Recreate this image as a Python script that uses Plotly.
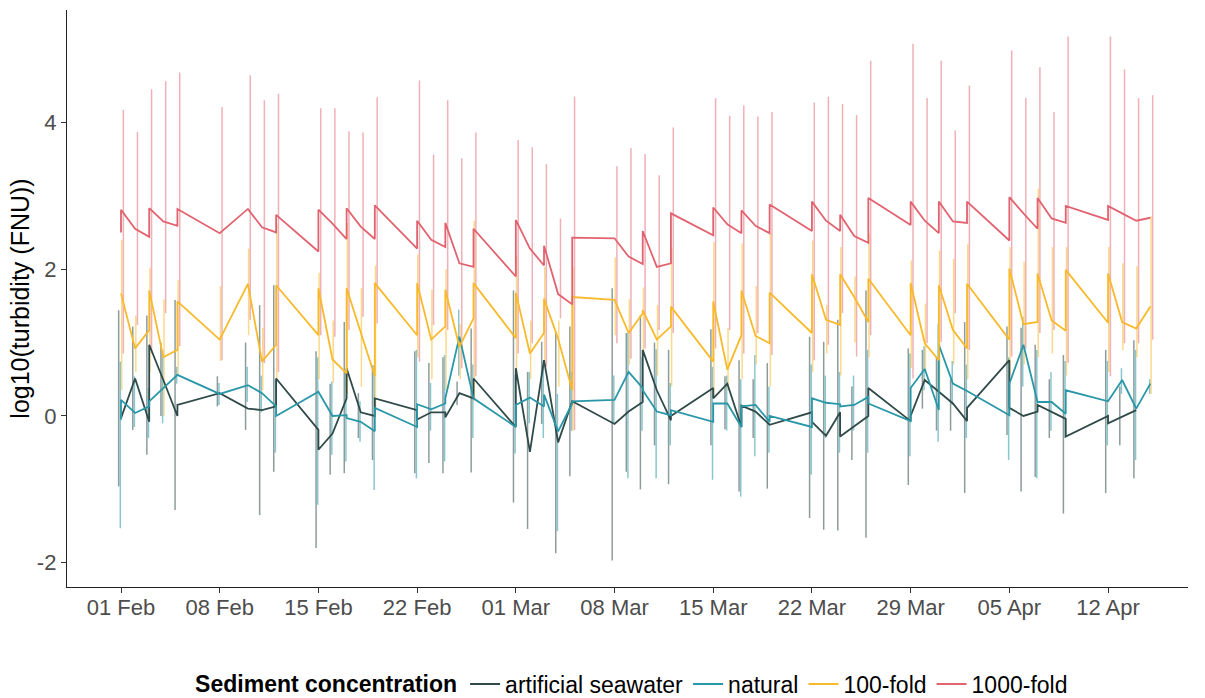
import pandas as pd
import plotly.graph_objects as go

start = pd.Timestamp("2021-02-01")

# ---- line data: sampling days after 1 Feb 2021 (a repeated day = reading before / after renewal)
line_days = [0,0,1,2,2,3,4,4,7,9,10,11,11,14,14,15,16,16,17,18,18,21,21,22,23,23,24,25,25,
             28,28,29,30,30,31,32,32,35,36,37,37,38,39,39,42,42,43,44,44,45,46,46,49,49,50,
             51,51,52,53,53,56,56,57,58,58,59,60,60,63,63,64,65,65,66,67,67,70,70,71,72,73]

art_mean = [-0.03,-0.03,0.51,-0.08,0.97,0.49,0.00,0.15,0.31,0.10,0.08,0.13,0.51,-0.19,-0.46,-0.24,
            0.24,0.65,0.05,0.00,0.24,0.08,-0.05,0.05,0.05,-0.02,0.31,0.24,0.51,-0.15,0.65,-0.49,
            0.76,0.76,-0.36,0.20,0.20,-0.11,0.06,0.19,0.90,0.35,-0.06,0.00,0.38,0.24,0.44,-0.15,
            0.14,0.06,-0.12,-0.12,0.05,-0.08,-0.27,0.05,-0.28,-0.14,0.00,0.38,-0.07,0.00,0.49,
            0.33,0.33,0.17,-0.07,0.11,0.76,0.11,0.00,0.06,0.15,0.06,-0.04,-0.28,0.00,-0.10,
            -0.01,0.08,None]
nat_mean = [-0.05,0.22,0.04,0.13,0.20,0.38,0.56,0.56,0.30,0.42,0.31,0.13,0.00,0.33,0.33,0.00,
            0.01,-0.03,-0.08,-0.21,0.11,-0.15,0.16,0.09,0.17,0.24,1.08,0.24,0.24,-0.15,0.15,0.25,
            0.13,0.29,-0.21,0.17,0.20,0.22,0.60,0.38,0.35,0.06,0.01,0.08,-0.08,0.17,0.17,-0.15,
            0.13,0.15,-0.08,0.00,-0.15,0.24,0.18,0.16,0.13,0.15,0.26,0.17,-0.07,0.38,0.64,0.08,
            0.97,0.44,0.34,0.34,0.01,0.44,0.97,0.19,0.19,0.19,0.03,0.35,0.20,0.20,0.49,0.10,0.44]
f100_mean = [1.67,1.67,0.92,1.17,1.71,0.80,0.90,1.56,1.04,1.80,0.74,0.97,1.78,1.10,1.74,0.77,
             0.58,1.74,1.15,0.54,1.81,1.10,1.81,1.04,1.22,1.72,0.94,1.33,1.81,1.06,1.68,0.85,
             1.13,1.60,1.05,0.35,1.62,1.58,1.13,1.40,1.44,1.04,1.22,1.49,0.74,1.56,0.63,1.10,
             1.71,1.09,0.99,1.68,1.13,1.93,1.31,1.24,1.93,1.62,1.28,1.87,1.10,1.81,0.99,0.76,
             1.78,1.17,0.92,1.80,1.04,2.01,1.25,1.28,1.94,1.30,1.16,1.99,1.27,1.94,1.28,1.19,1.49]
f1000_mean = [2.50,2.81,2.55,2.44,2.83,2.65,2.59,2.82,2.49,2.82,2.57,2.50,2.74,2.24,2.81,2.62,
              2.41,2.83,2.58,2.41,2.87,2.28,2.66,2.40,2.30,2.63,2.08,2.03,2.55,1.90,2.67,2.28,
              2.05,2.32,1.66,1.52,2.43,2.42,2.17,2.07,2.52,2.03,2.08,2.76,2.46,2.84,2.61,2.49,
              2.80,2.59,2.49,2.88,2.52,2.92,2.66,2.52,2.74,2.45,2.36,2.97,2.60,2.92,2.66,2.49,
              2.92,2.65,2.63,2.92,2.39,2.98,2.76,2.55,2.97,2.69,2.63,2.86,2.67,2.86,2.76,2.66,2.70]

# ---- error bar data: one range per sampling day
bar_days = [0,1,2,3,4,7,9,10,11,14,15,16,17,18,21,22,23,24,25,28,29,30,31,32,35,36,37,38,39,
            42,43,44,45,46,49,50,51,52,53,56,57,58,59,60,63,64,65,66,67,70,71,72,73]

art_lo = [-0.96,-0.19,-0.53,0.00,-1.28,0.13,-0.19,-1.35,-0.76,-1.80,-0.80,-0.78,-0.30,-0.60,-0.78,
          -0.64,-0.78,0.15,-0.77,-1.18,-1.54,-0.11,-1.87,-0.82,-1.97,-0.76,-1.00,-0.40,-0.93,-0.40,
          -0.18,-1.03,-0.30,-0.99,-1.39,-1.55,-1.56,-0.60,-1.66,-0.94,0.10,-0.20,-0.20,-1.05,-0.26,
          -1.03,-0.83,-0.30,-1.33,-1.05,-0.40,-0.85,None]
art_hi = [1.44,1.22,1.37,1.00,1.58,0.54,1.00,1.51,1.78,0.88,0.44,1.28,0.31,0.69,0.88,0.72,0.80,
          0.47,1.19,1.71,0.60,1.01,1.15,1.22,1.74,1.13,1.37,1.00,0.90,1.18,0.54,0.76,0.50,0.72,
          1.08,1.01,1.31,0.40,1.71,0.92,0.90,0.80,0.50,1.28,1.22,1.20,0.97,0.50,0.83,0.90,0.40,
          1.03,None]
nat_lo = [-1.53,-0.15,-0.30,-0.10,0.44,0.15,0.19,0.05,-0.50,-1.21,-0.53,-0.62,-0.35,-1.01,-0.85,
          -0.20,-0.62,0.55,-0.30,-0.51,-0.10,-0.30,-1.57,-0.20,-0.10,-0.85,-0.20,-0.85,-0.40,-0.87,
          -0.20,-1.10,-0.55,-0.50,-0.80,-0.30,-0.50,-0.20,-0.50,-0.55,0.35,-0.35,0.15,-0.30,-0.60,
          0.40,-0.85,-0.20,-0.30,-0.40,0.30,-0.60,0.30]
nat_hi = [0.74,0.54,0.38,0.90,0.67,0.45,0.67,0.55,0.50,0.80,0.47,0.60,0.20,0.69,0.90,0.45,0.83,
          1.45,0.70,0.56,0.60,0.75,0.30,0.60,0.55,1.13,0.80,0.91,0.45,0.67,0.55,0.50,0.83,0.40,
          0.70,0.55,0.60,0.55,0.90,0.85,0.95,1.25,0.75,0.70,0.80,1.35,0.90,0.60,0.75,0.75,0.65,
          0.90,0.50]
f100_lo = [0.35,0.60,0.60,0.00,0.55,0.75,1.10,0.35,0.50,0.50,0.45,0.30,0.40,0.05,0.80,0.50,0.35,
           0.50,0.20,0.50,0.50,0.70,0.40,-0.20,1.10,0.70,0.90,0.55,0.40,0.25,0.35,0.50,0.70,0.40,
           0.60,0.85,0.55,1.00,0.80,0.65,0.60,0.30,0.70,0.50,0.55,0.70,0.80,0.85,0.55,0.60,0.90,
           0.80,0.30]
f100_hi = [2.40,1.37,2.02,1.59,1.85,1.77,2.28,1.20,2.62,1.95,1.30,2.63,1.74,2.05,2.20,1.72,2.00,
           1.25,2.66,2.18,1.30,2.03,1.30,2.03,2.16,1.59,1.75,1.51,2.28,2.37,1.20,2.35,1.77,2.48,
           2.39,1.51,2.30,1.90,2.48,2.12,1.53,2.25,2.14,2.34,2.30,2.10,3.10,2.30,2.30,2.30,2.08,
           2.04,2.72]
f1000_lo = [0.85,1.24,0.85,1.40,0.95,0.76,1.31,0.72,0.60,1.10,1.08,1.17,1.35,1.26,0.74,1.24,1.17,
            0.65,0.54,0.85,0.99,0.67,1.33,-0.19,0.99,0.78,0.92,1.17,1.13,0.92,1.17,0.85,1.13,0.83,
            0.76,0.97,1.40,0.81,1.10,0.51,0.99,1.01,1.40,0.90,0.81,0.92,1.13,1.17,0.72,0.54,0.99,
            0.99,1.04]
f1000_hi = [4.17,3.87,4.45,4.56,4.68,4.21,4.64,4.30,4.39,4.19,4.19,3.88,3.86,4.34,4.57,3.56,4.30,
            3.51,3.86,3.76,3.66,3.43,2.69,4.35,3.40,3.65,3.57,3.28,3.93,4.33,4.09,4.23,4.08,4.14,
            4.27,4.35,4.25,4.10,4.84,5.07,4.33,4.84,3.89,4.50,4.98,4.33,4.75,4.14,5.17,5.17,4.72,
            4.33,4.37]

y_tickvals = [-2, 0, 2, 4]
y_ticktext = ["-2", "0", "2", "4"]

series_names = ["artificial seawater", "natural", "100-fold", "1000-fold"]
series_colors = ["#2F4A48", "#2A97A8", "#F8BA2C", "#E0636F"]
bar_colors = ["rgba(47,74,72,0.55)", "rgba(42,151,168,0.55)", "rgba(248,186,44,0.55)", "rgba(224,99,111,0.5)"]
dodge_hours = [-4.0, -1.2, 1.2, 4.0]

means = [art_mean, nat_mean, f100_mean, f1000_mean]
los = [art_lo, nat_lo, f100_lo, f1000_lo]
his = [art_hi, nat_hi, f100_hi, f1000_hi]

fig = go.Figure()

# error bars first (drawn underneath the lines)
for i in range(4):
    xs, ys = [], []
    for d, lo, hi in zip(bar_days, los[i], his[i]):
        if lo is None or hi is None:
            continue
        t = start + pd.Timedelta(days=d) + pd.Timedelta(hours=dodge_hours[i])
        xs += [t, t, None]
        ys += [lo, hi, None]
    fig.add_trace(go.Scatter(x=xs, y=ys, mode="lines", showlegend=False, hoverinfo="skip",
                             line=dict(color=bar_colors[i], width=1.5)))

for i in range(4):
    xs = [start + pd.Timedelta(days=d) for d in line_days]
    fig.add_trace(go.Scatter(x=xs, y=means[i], mode="lines", name=series_names[i],
                             connectgaps=False,
                             line=dict(color=series_colors[i], width=1.8)))

x0 = start - pd.Timedelta(days=3.83)
x1 = start + pd.Timedelta(days=75.67)

fig.update_layout(
    width=1205, height=698,
    margin=dict(l=67, r=17, t=10, b=111, autoexpand=False),
    paper_bgcolor="white", plot_bgcolor="white",
    font=dict(family="Liberation Sans, Arial, sans-serif", size=22, color="#000000"),
    showlegend=True,
    legend=dict(orientation="h", x=0.505, xanchor="center",
                yref="container", y=0.02, yanchor="middle",
                title=dict(text="<b>Sediment concentration</b>", side="left",
                           font=dict(size=23, color="#000000")),
                font=dict(size=23, color="#000000"), itemwidth=30, tracegroupgap=0),
)
fig.update_xaxes(range=[x0, x1], type="date", tick0=start, dtick=7 * 24 * 3600 * 1000,
                 tickformat="%d %b", showline=True, linecolor="#222222", linewidth=1.4,
                 ticks="outside", ticklen=5, tickcolor="#333333", tickwidth=1.2,
                 ticklabelstandoff=-5,
                 tickfont=dict(size=22, color="#4D4D4D"), showgrid=False, zeroline=False,
                 automargin=False)
fig.update_yaxes(range=[-2.33, 5.53], tickvals=y_tickvals, ticktext=y_ticktext, showline=True,
                 linecolor="#222222", linewidth=1.4, ticks="outside", ticklen=5,
                 tickcolor="#333333", tickwidth=1.2, tickfont=dict(size=22, color="#4D4D4D"),
                 title=dict(text="log10(turbidity (FNU))", font=dict(size=25, color="#000000"),
                            standoff=0),
                 showgrid=False, zeroline=False, automargin=False)

fig.write_html("out.html")
